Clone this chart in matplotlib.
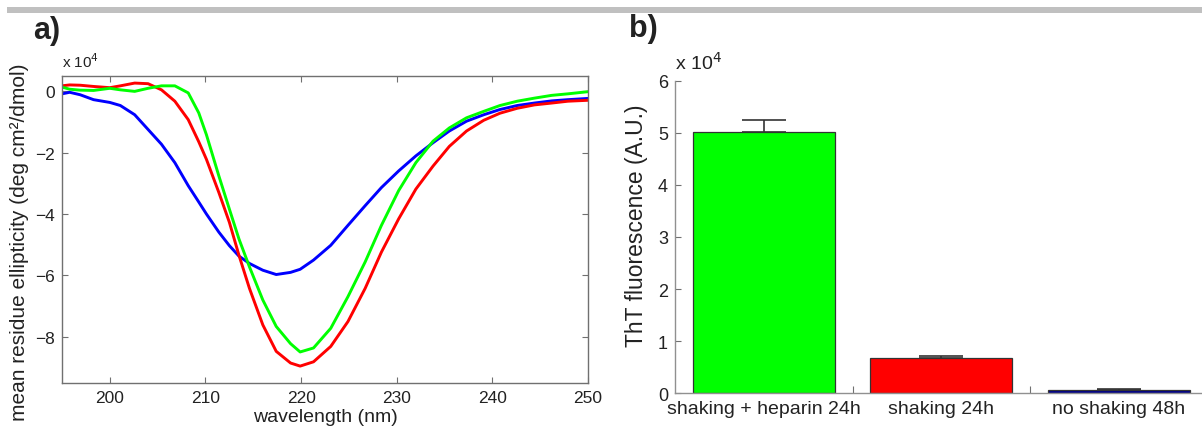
import matplotlib
matplotlib.use('Agg')
import matplotlib.pyplot as plt
from matplotlib.patches import Rectangle

plt.rcParams['font.family'] = ['Liberation Sans', 'DejaVu Sans']

# ---------------- data: panel a (CD spectra, units of 1e4 deg cm^2/dmol) ----------------
wavelength_nm = [195.0, 195.8, 196.9, 198.3, 200.0, 201.1, 202.6, 204.0, 205.4, 206.8,
                 208.2, 209.3, 210.1, 211.4, 212.5, 213.5, 214.6, 216.0, 217.4, 218.9,
                 219.9, 221.3, 223.1, 224.9, 226.7, 228.4, 230.2, 232.0, 233.8, 235.5,
                 237.3, 239.1, 240.8, 242.6, 244.4, 246.2, 247.9, 250.0]
blue_cd = [-0.09, -0.04, -0.12, -0.28, -0.37, -0.47, -0.77, -1.25, -1.73, -2.33,
           -3.08, -3.61, -4.0, -4.59, -5.03, -5.37, -5.61, -5.83, -5.97, -5.9,
           -5.8, -5.5, -5.02, -4.37, -3.73, -3.14, -2.6, -2.11, -1.68, -1.3,
           -0.98, -0.77, -0.6, -0.47, -0.39, -0.32, -0.28, -0.24]
red_cd = [0.17, 0.2, 0.19, 0.15, 0.11, 0.17, 0.26, 0.24, 0.04, -0.33,
          -0.93, -1.65, -2.22, -3.3, -4.27, -5.34, -6.42, -7.61, -8.47, -8.85,
          -8.95, -8.81, -8.31, -7.5, -6.42, -5.24, -4.16, -3.19, -2.44, -1.8,
          -1.3, -0.95, -0.72, -0.56, -0.45, -0.39, -0.33, -0.3]
green_cd = [0.13, 0.06, 0.03, 0.02, 0.09, 0.04, -0.01, 0.09, 0.17, 0.17,
            -0.06, -0.71, -1.42, -2.76, -3.84, -4.81, -5.72, -6.8, -7.66, -8.22,
            -8.49, -8.36, -7.72, -6.69, -5.56, -4.37, -3.24, -2.33, -1.63, -1.2,
            -0.87, -0.66, -0.47, -0.33, -0.23, -0.14, -0.09, -0.02]
a_xticks = [200, 210, 220, 230, 240, 250]
a_yticks = [0, -2, -4, -6, -8]

# ---------------- data: panel b (ThT fluorescence, units of 1e4 A.U.) ----------------
bar_labels = ['shaking + heparin 24h', 'shaking 24h', 'no shaking 48h']
bar_values = [5.02, 0.68, 0.065]
bar_errors = [0.23, 0.04, 0.015]
bar_colors = ['#00ff00', '#ff0000', '#00008c']
b_yticks = [0, 1, 2, 3, 4, 5, 6]

W, H = 1202, 427
fig = plt.figure(figsize=(W / 100, H / 100), dpi=100)
fig.patch.set_facecolor('white')

def fx(px):
    return px / W

def fy(py):
    return 1 - py / H

# top gray rule
fig.add_artist(Rectangle((fx(7), fy(14)), fx(1202) - fx(7), (14 - 8) / H,
                         transform=fig.transFigure, facecolor='#c0c0c0',
                         edgecolor='none'))

spine_col = '#707070'
txt_col = '#222222'

# ---------------- panel a ----------------
axa = fig.add_axes([fx(62), fy(384), (588 - 62) / W, (384 - 76.7) / H])
for vals, col in ((blue_cd, '#0000ff'), (red_cd, '#ff0000'), (green_cd, '#00ff00')):
    axa.plot(wavelength_nm, vals, color=col, lw=2.1, solid_joinstyle='round',
             solid_capstyle='round')
axa.set_xlim(195, 250)
axa.set_ylim(-9.5, 0.5)
axa.set_xticks(a_xticks)
axa.set_yticks(a_yticks)
axa.set_yticklabels(['0' if v == 0 else '\u2212%d' % abs(v) for v in a_yticks])
axa.tick_params(direction='in', length=4, width=0.8, color=spine_col,
                top=True, right=True, labelsize=12.5, labelcolor=txt_col, pad=5)
for s in axa.spines.values():
    s.set_color(spine_col)
    s.set_linewidth(1.0)
axa.set_xlabel('wavelength (nm)', fontsize=14, color=txt_col, labelpad=2)
axa.set_ylabel('mean residue ellipticity (deg cm\u00b2/dmol)', fontsize=15,
               color=txt_col)
axa.yaxis.set_label_coords(-0.063, 0.46)
axa.text(0.0, 1.02, 'x 10$^{4}$', transform=axa.transAxes, fontsize=11,
         color=txt_col, ha='left', va='bottom')
fig.text(fx(33), fy(16), 'a)', fontsize=22, fontweight='bold', color=txt_col,
         ha='left', va='top')

# ---------------- panel b ----------------
axb = fig.add_axes([fx(675), fy(394.3), (177.5 * 3) / W, (394.3 - 81.7) / H])
xpos = [1, 2, 3]
axb.bar(xpos, bar_values, width=0.8, color=bar_colors, edgecolor='#333333',
        linewidth=0.9, zorder=2)
axb.errorbar(xpos, bar_values, yerr=[[0, 0, 0], bar_errors], fmt='none',
             ecolor='#333333', elinewidth=1.2, capsize=15.5, capthick=1.2, zorder=3)
axb.set_xlim(0.5, 3.5)
axb.set_ylim(0, 6)
axb.set_yticks(b_yticks)
axb.set_xticks(xpos)
axb.set_xticklabels(bar_labels)
axb.set_xticks([1.5, 2.5], minor=True)
axb.tick_params(axis='x', which='major', length=0, labelsize=14,
                labelcolor=txt_col, pad=5)
axb.tick_params(axis='x', which='minor', direction='in', length=5, width=0.8,
                color=spine_col)
axb.tick_params(axis='y', direction='in', length=4, width=0.8, color=spine_col,
                labelsize=13, labelcolor=txt_col, pad=5)
for k in ('top', 'right'):
    axb.spines[k].set_visible(False)
for k in ('left', 'bottom'):
    axb.spines[k].set_color('#909090')
    axb.spines[k].set_linewidth(1.0)
axb.set_ylabel('ThT fluorescence (A.U.)', fontsize=16.5, color=txt_col)
axb.yaxis.set_label_coords(-0.051, 0.54)
axb.text(0.0, 1.025, 'x 10$^{4}$', transform=axb.transAxes, fontsize=14,
         color=txt_col, ha='left', va='bottom')
fig.text(fx(629), fy(14), 'b)', fontsize=22, fontweight='bold', color=txt_col,
         ha='left', va='top')

fig.savefig('out.png', dpi=100, facecolor='white')
